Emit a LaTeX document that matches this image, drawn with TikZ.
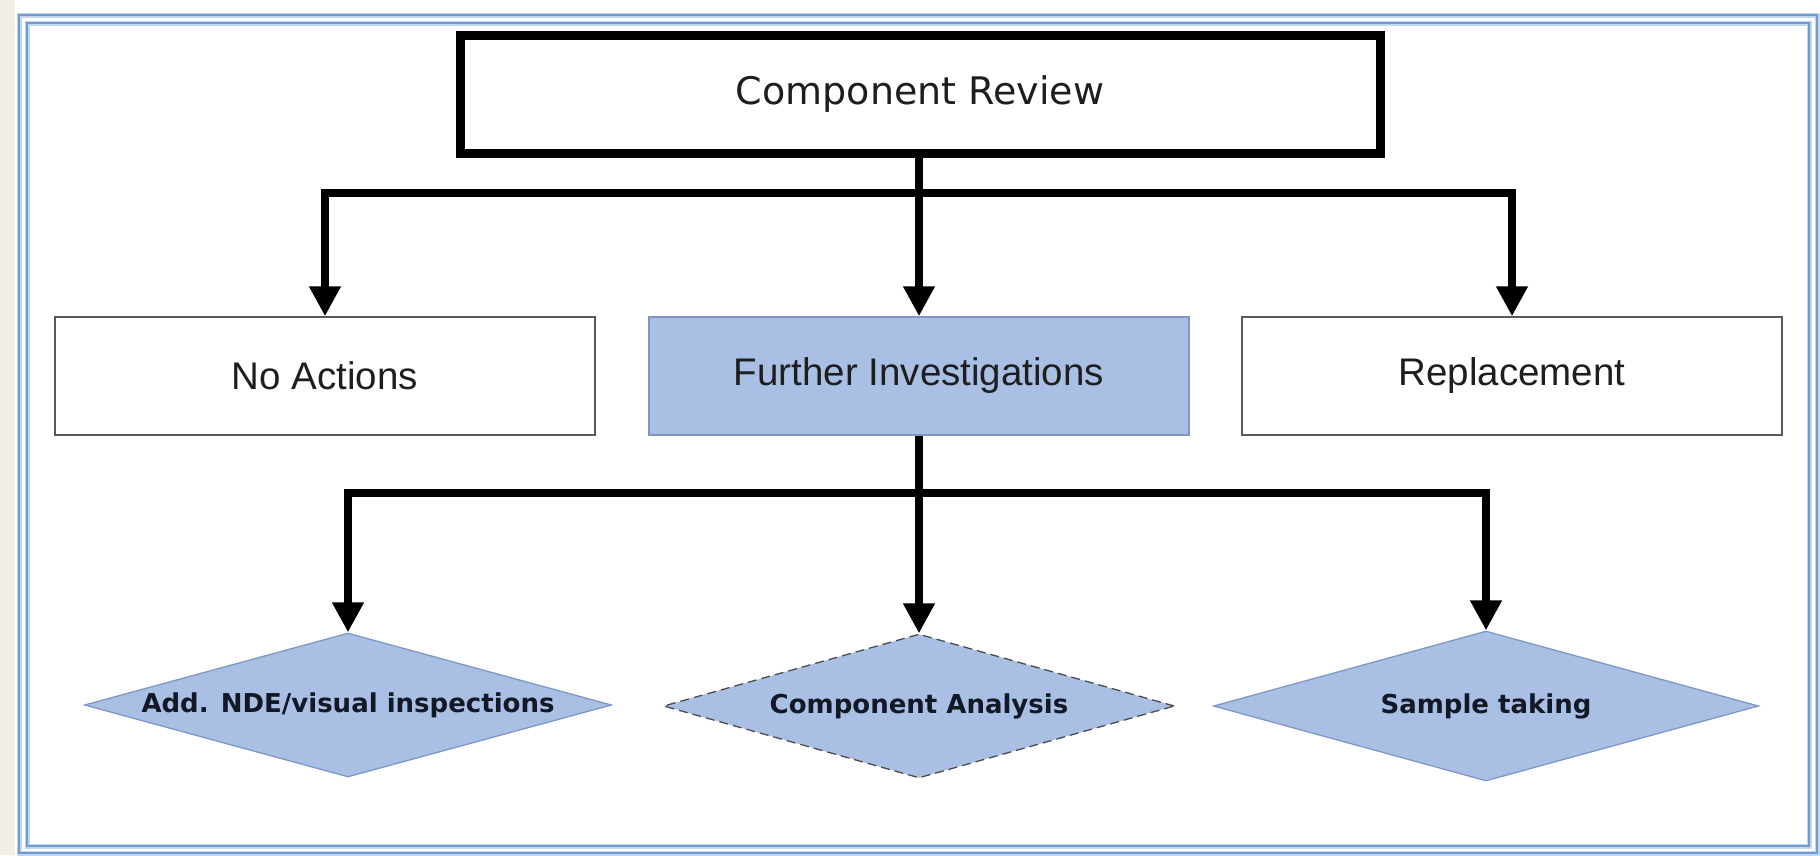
\documentclass[tikz,border=0pt]{standalone}
\usepackage{fontspec}
\setmainfont{Liberation Sans}
\newfontfamily\titlefont{DejaVu Sans}
\usetikzlibrary{shapes.geometric,arrows.meta}

\definecolor{paper}{HTML}{F4EFE6}
\definecolor{frameblue}{HTML}{6F9BD1}
\definecolor{framehalo}{HTML}{C2D6EF}
\definecolor{boxblue}{HTML}{A9BFE4}
\definecolor{boxedge}{HTML}{7E98C6}
\definecolor{ink}{HTML}{1E1E1E}
\definecolor{boldink}{HTML}{121826}

\tikzset{
  framehaloline/.style={draw=framehalo, line width=5pt},
  framecoreline/.style={draw=frameblue, line width=2.4pt},
  headbox/.style={draw=black, line width=9pt, fill=white, rectangle,
    minimum width=920pt, minimum height=118pt, inner sep=0pt,
    text=ink, font=\titlefont\fontsize{38}{44}\selectfont},
  choicebox/.style={draw=black!65, line width=1.5pt, fill=white, rectangle,
    minimum width=540pt, minimum height=118pt, inner sep=0pt,
    text=ink, font=\fontsize{38.5}{46}\selectfont},
  focusbox/.style={choicebox, draw=boxedge, fill=boxblue},
  taskdiamond/.style={diamond, aspect=4, inner sep=0pt, fill=boxblue,
    draw=boxedge, line width=1.3pt, text=boldink,
    font=\titlefont\bfseries\fontsize{26}{30}\selectfont},
  link/.style={draw=black, line width=8pt, line join=miter},
  arrowlink/.style={link, -{Triangle[width=30pt,length=30pt]}},
}

\begin{document}
\begin{tikzpicture}[x=1pt,y=-1pt]
  % page and left paper strip
  \fill[white] (0,0) rectangle (1820,855);
  \fill[paper] (0,0) rectangle (15,855);
  \useasboundingbox (0,0) rectangle (1820,855);

  % double blue frame
  \draw[framehaloline] (19,15) rectangle (1817,853);
  \draw[framecoreline] (19,15) rectangle (1817,853);
  \draw[framehaloline] (27,23) rectangle (1809,846);
  \draw[framecoreline] (27,23) rectangle (1809,846);

  % top decision
  \node[headbox] (review) at (920,94) {Component Review};

  % first level outcomes
  \node[choicebox] (noact) at (325,376) {No Actions};
  \node[focusbox]  (further) at (919,376) {Further Investigations};
  \node[choicebox] (replace) at (1512,376) {Replacement};

  % second level tasks
  \node[taskdiamond, minimum width=527pt, minimum height=144pt] (ndeinsp) at (348,705) {Add. NDE/visual inspections};
  \node[taskdiamond, dashed, dash pattern=on 9pt off 5pt, draw=black!70,
        minimum width=511pt, minimum height=144pt] (analysis) at (919,706) {Component Analysis};
  \node[taskdiamond, minimum width=545pt, minimum height=150pt] (sample) at (1486,706) {Sample taking};

  % branching points
  \coordinate (hubA) at (919,193);
  \coordinate (hubB) at (919,493);

  % connectors from the review box
  \draw[link] (review.south -| hubA) -- (hubA);
  \draw[arrowlink] (hubA) -| (noact.north);
  \draw[arrowlink] (hubA) -| (replace.north);
  \draw[arrowlink] (hubA) -- (further.north);

  % connectors from further investigations
  \draw[link] (further.south) -- (hubB);
  \draw[arrowlink] (hubB) -| (ndeinsp.north);
  \draw[arrowlink] (hubB) -| (sample.north);
  \draw[arrowlink] (hubB) -- (analysis.north);
\end{tikzpicture}
\end{document}
